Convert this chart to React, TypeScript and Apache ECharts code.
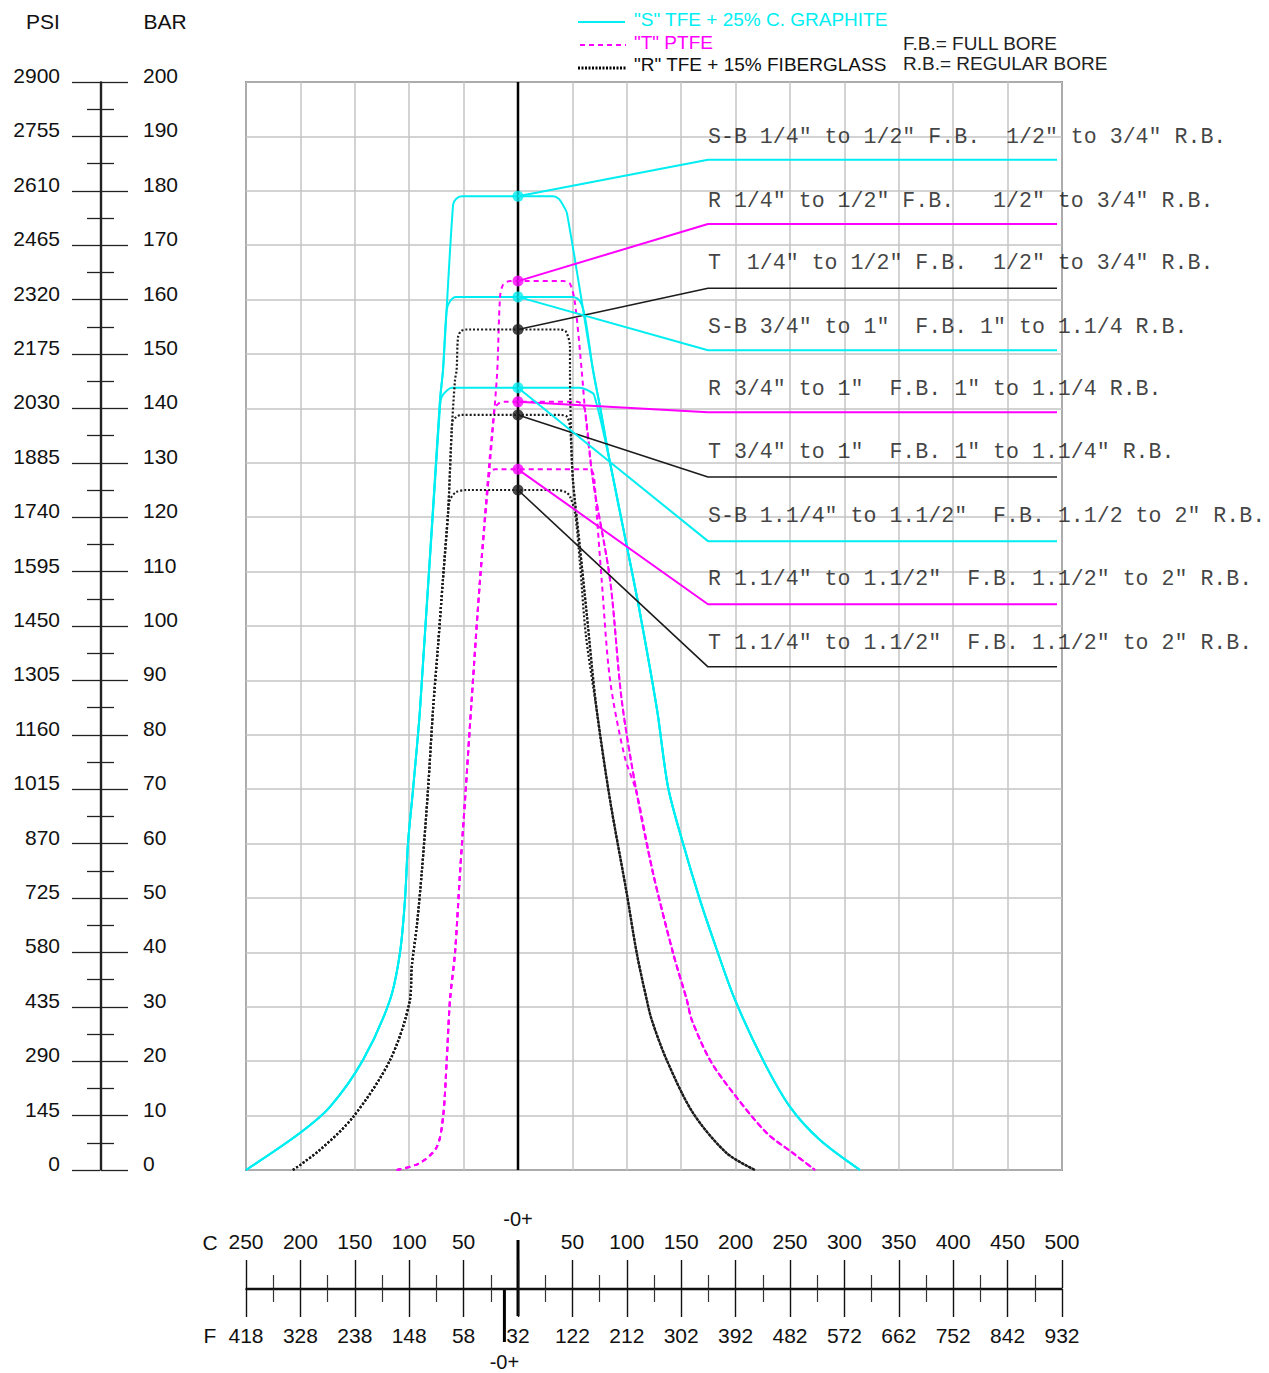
import React, { useEffect, useRef } from "react";
import * as echarts from "echarts";

// ---------- axes / tick labels ----------
const X_MIN = -250;
const X_MAX = 500;
const X_STEP = 50;
const Y_MIN = 0;
const Y_MAX = 200;
const Y_STEP = 10;
const F_ZERO_C = -12.5; // position of the "-0+" Fahrenheit marker on the Celsius scale

const cTickLabels = ["250", "200", "150", "100", "50", "", "50", "100", "150", "200", "250", "300", "350", "400", "450", "500"];
const fTickLabels = ["418", "328", "238", "148", "58", "32", "122", "212", "302", "392", "482", "572", "662", "752", "842", "932"];
const psiLabels = ["0", "145", "290", "435", "580", "725", "870", "1015", "1160", "1305", "1450", "1595", "1740", "1885", "2030", "2175", "2320", "2465", "2610", "2755", "2900"];
const barLabels = ["0", "10", "20", "30", "40", "50", "60", "70", "80", "90", "100", "110", "120", "130", "140", "150", "160", "170", "180", "190", "200"];

// ---------- "S" TFE + 25% C. GRAPHITE (cyan) [°C, bar] ----------
const sLeftLow = [[-250, 0], [-200.4, 6.8], [-172.8, 11.6], [-142.5, 20.2], [-117.6, 31.3], [-108.5, 39.9], [-103.9, 49.6], [-101.1, 60.1], [-96.5, 69.9], [-90.1, 84.6]];
const sRightLow = [[75.4, 140.3], [84.6, 130], [100.2, 114.5], [112.1, 102.4], [127.8, 84.6], [137.9, 70.4], [150.7, 60.7], [167.3, 49.6], [182.9, 40.4], [199.4, 31.3], [225.2, 20.2], [250, 11.6], [277.6, 5.5], [314.3, 0]];
const sTop1 = [[-71.7, 141.5], [-68.9, 147.1], [-59.7, 177.4], [-57, 178.5], [-51.5, 179], [32.2, 179], [37.7, 178.5], [41.3, 177.4], [45, 175.9], [68.9, 147.1]];
const sTop2 = [[-71.7, 141.5], [-68.9, 147.1], [-65.6, 158], [-62.5, 159.7], [-57, 160.5], [50.5, 160.5], [57, 159.7], [61.6, 156.8], [68.9, 147.1]];
const sTop3 = [[-71.7, 140.3], [-69.9, 142.2], [-65.3, 143.3], [-60.7, 143.8], [57, 143.8], [64.3, 143.3], [69.9, 142.5]];

// ---------- "T" PTFE (magenta) ----------
const tLeftLow = [[-111.5, 0], [-90.1, 1.3], [-74.7, 4.2], [-68.9, 9.7], [-65.5, 20.2], [-62.5, 31.3], [-57.9, 39.9], [-53.3, 54.6], [-48.7, 68], [-42.6, 86.4], [-34.9, 108.5]];
const tRightLow = [[95.3, 86.4], [109.1, 69.3], [124.1, 54.6], [142.5, 39.9], [155.1, 31.3], [159.7, 27.6], [176.5, 20.2], [197.6, 14.2], [228.6, 6.8], [252.8, 3.1], [273, 0]];
const tTop1 = [[-19.6, 145.2], [-16.5, 160.5], [-13.8, 162.7], [-7.4, 163.4], [41.4, 163.4], [47.8, 162.9], [52.4, 159.3], [58.5, 147.1], [61.6, 139.7], [68.9, 126.8], [84.6, 108.5]];
const tTop2 = [[-21.9, 139.7], [-18.4, 140.8], [-13.8, 141.2], [53.9, 141.2], [58.8, 140.8], [61.6, 139.7], [68.9, 126.8], [84.6, 108.5]];
const tTop3 = [[-27, 127.4], [-24.8, 128.5], [-21.1, 128.8], [64.3, 128.8], [68, 128.5], [69.9, 127.4], [72.3, 120.8], [76.9, 108.5], [84.6, 90.1], [98, 76]];

// ---------- "R" TFE + 15% FIBERGLASS (black) ----------
const rLeftLow = [[-206.8, 0], [-182, 3.7], [-151.7, 9.7], [-117.6, 20.2], [-99.3, 31.3], [-97.7, 37.3], [-93.1, 44.7], [-88.5, 54.6], [-82.7, 69.9], [-78.1, 84.6], [-73.6, 96.1], [-69, 108.5], [-64.3, 120.8]];
const rRightLow = [[72.3, 84.6], [84.6, 68], [99.9, 50.9], [109.1, 39.9], [118.3, 31.3], [122.9, 27.6], [136.7, 20.2], [160.8, 10.5], [191.8, 3.1], [217.8, 0]];
const rTop1 = [[-60.9, 136], [-57.9, 145.2], [-56.4, 147.1], [-55.1, 153.1], [-52.4, 154.2], [-47.2, 154.5], [38.6, 154.5], [44.1, 154.1], [47.8, 151.3], [47.8, 147.1], [48.7, 136], [50.5, 126.8], [56.9, 114.5], [63.1, 102.4]];
const rTop2 = [[-60.9, 136], [-59.7, 137.9], [-55, 138.6], [-53.3, 138.8], [38.6, 138.8], [44.8, 138.5], [47.8, 136.6], [50.5, 126.8], [56.9, 114.5], [63.1, 102.4]];
const rTop3 = [[-62.5, 123.2], [-57, 124.6], [-47.2, 125], [34.9, 125], [44.1, 124.6], [47.8, 123.8], [52.4, 120.8], [56.9, 111.6], [62.4, 98.3]];

// ---------- rating points at 0 °C (bar) ----------
const sRatings = [179, 160.5, 143.8];
const tRatings = [163.4, 141.2, 128.8];
const rRatings = [154.5, 138.8, 125];

// ---------- size labels (top to bottom) ----------
const sizeLabels = [
  'S-B 1/4" to 1/2" F.B.  1/2" to 3/4" R.B.',
  'R 1/4" to 1/2" F.B.   1/2" to 3/4" R.B.',
  'T  1/4" to 1/2" F.B.  1/2" to 3/4" R.B.',
  'S-B 3/4" to 1"  F.B. 1" to 1.1/4 R.B.',
  'R 3/4" to 1"  F.B. 1" to 1.1/4 R.B.',
  'T 3/4" to 1"  F.B. 1" to 1.1/4" R.B.',
  'S-B 1.1/4" to 1.1/2"  F.B. 1.1/2 to 2" R.B.',
  'R 1.1/4" to 1.1/2"  F.B. 1.1/2" to 2" R.B.',
  'T 1.1/4" to 1.1/2"  F.B. 1.1/2" to 2" R.B.',
];
const labelBars = [189.9, 178.1, 166.7, 155.0, 143.6, 132.0, 120.2, 108.6, 96.9];
const underlineBars = [185.7, 173.9, 162.1, 150.7, 139.3, 127.4, 115.6, 104.0, 92.5];
const labelStartC = 174.6;
const labelEndC = 495.4;
const labelDots = [sRatings[0], tRatings[0], rRatings[0], sRatings[1], tRatings[1], rRatings[1], sRatings[2], tRatings[2], rRatings[2]];

const CYAN = "#00eef2";
const MAGENTA = "#ff00ff";
const BLACK = "#1c1c1c";
const labelColors = [CYAN, MAGENTA, BLACK, CYAN, MAGENTA, BLACK, CYAN, MAGENTA, BLACK];

const SANS = "'Liberation Sans', Arial, sans-serif";
const MONO = "'Liberation Mono', 'DejaVu Sans Mono', monospace";

const idxOf = (v: number, min: number, step: number) => Math.round((v - min) / step);

function buildOption(): any {
  const curves = [
    { data: [...sLeftLow, ...sTop1, ...sRightLow], color: CYAN, type: "solid", width: 2 },
    { data: [...sLeftLow, ...sTop2, ...sRightLow], color: CYAN, type: "solid", width: 2 },
    { data: [...sLeftLow, ...sTop3, ...sRightLow.slice(1)], color: CYAN, type: "solid", width: 2 },
    { data: [...tLeftLow, ...tTop1, ...tRightLow], color: MAGENTA, type: [5, 4], width: 2 },
    { data: [...tLeftLow, ...tTop2, ...tRightLow], color: MAGENTA, type: [5, 4], width: 2 },
    { data: [...tLeftLow, ...tTop3, ...tRightLow.slice(1)], color: MAGENTA, type: [5, 4], width: 2 },
    { data: [...rLeftLow, ...rTop1, ...rRightLow], color: BLACK, type: [2, 2], width: 2.2 },
    { data: [...rLeftLow, ...rTop2, ...rRightLow], color: BLACK, type: [2, 2], width: 2.2 },
    { data: [...rLeftLow, ...rTop3, ...rRightLow], color: BLACK, type: [2, 2], width: 2.2 },
  ];

  const series: any[] = curves.map((c) => ({
    type: "line",
    xAxisIndex: 0,
    yAxisIndex: 0,
    data: c.data,
    symbol: "none",
    smooth: 0.3,
    silent: true,
    z: 3,
    lineStyle: { color: c.color, width: c.width, type: c.type },
  }));

  series.push({
    type: "line",
    xAxisIndex: 0,
    yAxisIndex: 0,
    data: [[0, Y_MIN], [0, Y_MAX]],
    symbol: "none",
    silent: true,
    z: 4,
    lineStyle: { color: "#000", width: 2.5 },
  });

  labelDots.forEach((dot, i) => {
    series.push({
      type: "line",
      xAxisIndex: 0,
      yAxisIndex: 0,
      data: [[0, dot], [labelStartC, underlineBars[i]], [labelEndC, underlineBars[i]]],
      symbol: "none",
      silent: true,
      z: 5,
      lineStyle: { color: labelColors[i], width: labelColors[i] === BLACK ? 1.6 : 2 },
    });
  });

  [
    { vals: sRatings, color: CYAN },
    { vals: tRatings, color: MAGENTA },
    { vals: rRatings, color: BLACK },
  ].forEach((g) => {
    series.push({
      type: "scatter",
      xAxisIndex: 0,
      yAxisIndex: 0,
      data: g.vals.map((v) => [0, v]),
      symbolSize: 11,
      silent: true,
      z: 6,
      itemStyle: { color: g.color },
    });
  });

  series.push({
    type: "scatter",
    xAxisIndex: 0,
    yAxisIndex: 0,
    symbolSize: 0,
    silent: true,
    z: 7,
    data: sizeLabels.map((t, i) => ({ value: [labelStartC, labelBars[i]], label: { formatter: t } })),
    label: {
      show: true,
      position: "right",
      distance: 0,
      fontFamily: MONO,
      fontSize: 21.6,
      color: "#111",
    },
  });

  const scaleTick = { show: true, length: 28, lineStyle: { color: "#111", width: 1.4 } };
  const scaleMinor = { show: true, splitNumber: 2, length: 13, lineStyle: { color: "#333", width: 1.2 } };

  const sideLabel = {
    show: true, fontSize: 21, fontFamily: SANS, color: "#111", verticalAlign: "bottom", lineHeight: 13,
  };

  return {
    animation: false,
    backgroundColor: "#fff",
    grid: [
      { left: 246, top: 82, width: 816, height: 1088, show: true, borderColor: "#333", borderWidth: 1.5, backgroundColor: "transparent" },
      { left: 246, top: 1288, width: 816, height: 1 },
      { left: 100, top: 82, width: 1, height: 1088 },
    ],
    xAxis: [
      {
        gridIndex: 0, type: "value", min: X_MIN, max: X_MAX, interval: X_STEP,
        axisLine: { show: false }, axisTick: { show: false }, axisLabel: { show: false },
        splitLine: { show: true, lineStyle: { color: "#c4c4c4", width: 1.5 } },
      },
      {
        gridIndex: 1, type: "value", position: "top", min: X_MIN, max: X_MAX, interval: X_STEP,
        axisLine: { show: true, onZero: false, lineStyle: { color: "#111", width: 1.3 } },
        axisTick: scaleTick, minorTick: scaleMinor, splitLine: { show: false },
        axisLabel: {
          show: true, margin: 36, fontSize: 21, fontFamily: SANS, color: "#111",
          formatter: (v: number) => cTickLabels[idxOf(v, X_MIN, X_STEP)] ?? "",
        },
      },
      {
        gridIndex: 1, type: "value", position: "bottom", min: X_MIN, max: X_MAX, interval: X_STEP,
        axisLine: { show: true, onZero: false, lineStyle: { color: "#111", width: 1.3 } },
        axisTick: scaleTick, minorTick: scaleMinor, splitLine: { show: false },
        axisLabel: {
          show: true, margin: 36, fontSize: 21, fontFamily: SANS, color: "#111",
          formatter: (v: number) => fTickLabels[idxOf(v, X_MIN, X_STEP)] ?? "",
        },
      },
      { gridIndex: 2, type: "value", min: 0, max: 1, show: false },
    ],
    yAxis: [
      {
        gridIndex: 0, type: "value", min: Y_MIN, max: Y_MAX, interval: Y_STEP,
        axisLine: { show: false }, axisTick: { show: false }, axisLabel: { show: false },
        splitLine: { show: true, lineStyle: { color: "#c4c4c4", width: 1.5 } },
      },
      { gridIndex: 1, type: "value", min: 0, max: 1, show: false },
      {
        gridIndex: 2, type: "value", position: "left", min: Y_MIN, max: Y_MAX, interval: Y_STEP,
        axisLine: { show: true, onZero: false, lineStyle: { color: "#222", width: 1.4 } },
        axisTick: { show: true, length: 28, lineStyle: { color: "#222", width: 1.3 } },
        minorTick: { show: true, splitNumber: 2, length: 13, lineStyle: { color: "#222", width: 1.3 } },
        splitLine: { show: false },
        axisLabel: {
          ...sideLabel, margin: 40,
          formatter: (v: number) => psiLabels[idxOf(v, Y_MIN, Y_STEP)] ?? "",
        },
      },
      {
        gridIndex: 2, type: "value", position: "right", min: Y_MIN, max: Y_MAX, interval: Y_STEP,
        axisLine: { show: true, onZero: false, lineStyle: { color: "#222", width: 1.4 } },
        axisTick: { show: true, length: 27, lineStyle: { color: "#222", width: 1.3 } },
        minorTick: { show: true, splitNumber: 2, length: 13, lineStyle: { color: "#222", width: 1.3 } },
        splitLine: { show: false },
        axisLabel: {
          ...sideLabel, margin: 42,
          formatter: (v: number) => barLabels[idxOf(v, Y_MIN, Y_STEP)] ?? "",
        },
      },
    ],
    series,
  };
}

function buildGraphics(x0: number, xF: number): any[] {
  const txt = (text: string, x: number, y: number, fill: string, size: number, align = "left") => ({
    type: "text", x, y, silent: true,
    style: { text, fill, font: `${size}px ${SANS}`, textAlign: align, textVerticalAlign: "middle" },
  });
  return [
    // legend
    { type: "line", silent: true, shape: { x1: 578, y1: 22, x2: 625, y2: 22 }, style: { stroke: CYAN, lineWidth: 2 } },
    txt('"S" TFE + 25% C. GRAPHITE', 634, 19, CYAN, 19),
    { type: "line", silent: true, shape: { x1: 580, y1: 45, x2: 626, y2: 45 }, style: { stroke: MAGENTA, lineWidth: 2, lineDash: [5, 4] } },
    txt('"T" PTFE', 634, 42, MAGENTA, 19),
    { type: "line", silent: true, shape: { x1: 578, y1: 68, x2: 626, y2: 68 }, style: { stroke: "#000", lineWidth: 3, lineDash: [2, 1.5] } },
    txt('"R" TFE + 15% FIBERGLASS', 634, 64, "#111", 19),
    txt("F.B.= FULL BORE", 903, 43, "#222", 19),
    txt("R.B.= REGULAR BORE", 903, 63, "#222", 19),
    // left scale titles
    txt("PSI", 43, 21, "#111", 21, "center"),
    txt("BAR", 165, 21, "#111", 21, "center"),
    // bottom scale
    txt("C", 210, 1242, "#111", 21, "center"),
    txt("F", 210, 1335, "#111", 21, "center"),
    { type: "line", silent: true, shape: { x1: x0, y1: 1240, x2: x0, y2: 1316 }, style: { stroke: "#000", lineWidth: 3 } },
    { type: "line", silent: true, shape: { x1: xF, y1: 1288, x2: xF, y2: 1342 }, style: { stroke: "#000", lineWidth: 3 } },
    txt("-0+", x0, 1219, "#111", 20, "center"),
    txt("-0+", xF, 1362, "#111", 20, "center"),
  ];
}

export default function App() {
  const ref = useRef<HTMLDivElement>(null);
  useEffect(() => {
    if (!ref.current) return;
    const chart = echarts.init(ref.current, null, { renderer: "svg" });
    chart.setOption(buildOption());
    const x0 = chart.convertToPixel({ xAxisIndex: 1 }, 0) as number;
    const xF = chart.convertToPixel({ xAxisIndex: 1 }, F_ZERO_C) as number;
    chart.setOption({ graphic: buildGraphics(x0, xF) });
    return () => chart.dispose();
  }, []);
  return (
    <div
      ref={ref}
      style={{ position: "fixed", left: 0, top: 0, width: 1269, height: 1373, background: "#fff" }}
    />
  );
}
